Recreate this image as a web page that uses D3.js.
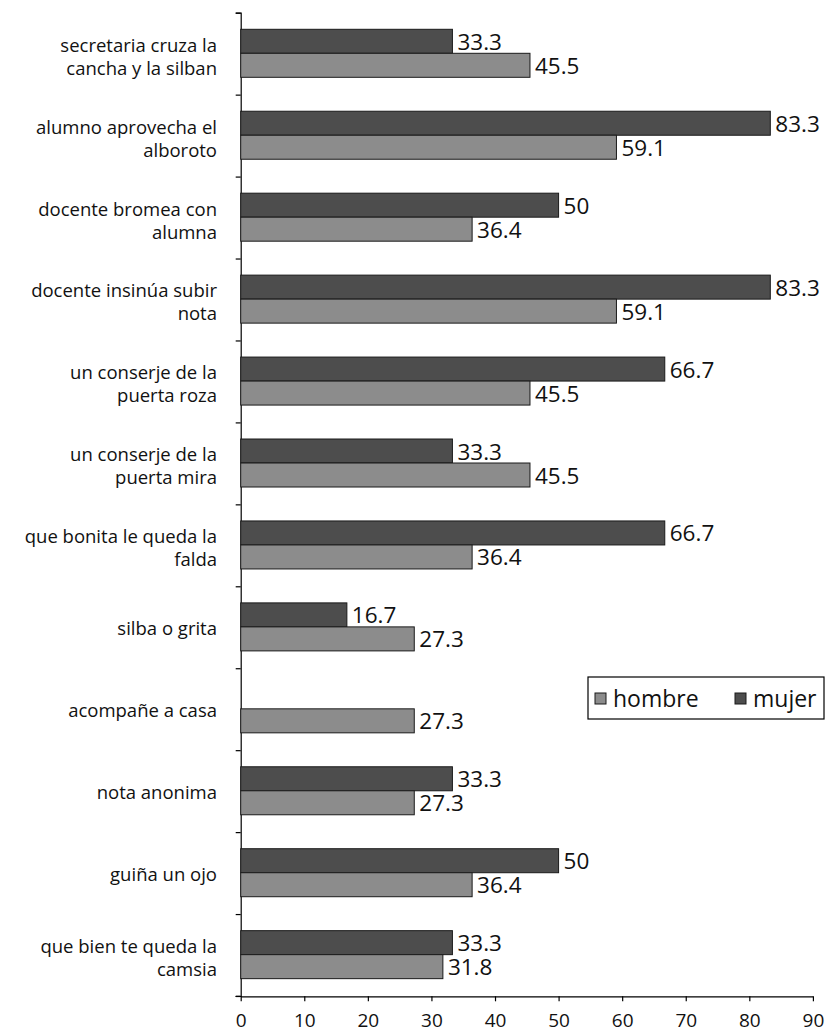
<!DOCTYPE html>
<html>
<head>
<meta charset="utf-8">
<script src="https://cdn.jsdelivr.net/npm/d3@7"></script>
<style>
  body { margin: 0; background: #fff; }
  text { font-family: "Open Sans", sans-serif; fill: #111; }
  .axis path, .axis line { stroke: #000; stroke-width: 1.2; }
</style>
</head>
<body>
<svg width="826" height="1033"></svg>
<script>
// data, top to bottom
var categories = [
  "secretaria cruza la\ncancha y la silban",
  "alumno aprovecha el\nalboroto",
  "docente bromea con\nalumna",
  "docente insinúa subir\nnota",
  "un conserje de la\npuerta roza",
  "un conserje de la\npuerta mira",
  "que bonita le queda la\nfalda",
  "silba o grita",
  "acompañe a casa",
  "nota anonima",
  "guiña un ojo",
  "que bien te queda la\ncamsia"
];
var mujer  = [33.3, 83.3, 50, 83.3, 66.7, 33.3, 66.7, 16.7, null, 33.3, 50, 33.3];
var hombre = [45.5, 59.1, 36.4, 59.1, 45.5, 45.5, 36.4, 27.3, 27.3, 27.3, 36.4, 31.8];
var series = ["mujer", "hombre"];
var colors = {mujer: "#4d4d4d", hombre: "#8c8c8c"};
var xTicks = [0, 10, 20, 30, 40, 50, 60, 70, 80, 90];

var svg = d3.select("svg");

var x = d3.scaleLinear().domain([0, 90]).range([240.7, 812.9]);
var y = d3.scaleBand().domain(categories).range([12.7, 996]);
var y1 = d3.scaleBand().domain(series).range([16.6, 64.6]);

var rows = categories.map((c, i) => ({cat: c, mujer: mujer[i], hombre: hombre[i]}));

// y axis: ticks between categories
var edges = d3.scaleLinear().domain([0, categories.length]).range([12.7, 996]);
svg.append("g")
  .attr("class", "axis")
  .attr("transform", "translate(240.7,0)")
  .call(d3.axisLeft(edges).ticks(categories.length).tickFormat("").tickSize(5).tickSizeOuter(5));

var g = svg.selectAll(".cat")
  .data(rows)
  .enter().append("g")
    .attr("class", "cat")
    .attr("transform", d => "translate(0," + y(d.cat) + ")");

series.forEach(s => {
  var withVal = g.filter(d => d[s] != null);
  withVal.append("rect")
    .attr("x", x(0))
    .attr("y", y1(s))
    .attr("width", d => x(d[s]) - x(0))
    .attr("height", y1.bandwidth())
    .attr("fill", colors[s])
    .attr("stroke", "#1a1a1a")
    .attr("stroke-width", 1);
  withVal.append("text")
    .attr("x", d => x(d[s]) + 5)
    .attr("y", y1(s) + y1.bandwidth() / 2 + 8.5)
    .style("font-size", "22.5px")
    .text(d => d[s]);
});

// category labels
var lineH = 23;
g.each(function(d) {
  var lines = d.cat.split("\n");
  var t = d3.select(this).append("text")
    .attr("text-anchor", "end")
    .style("font-size", "18.5px");
  var start = y.bandwidth() / 2 + 8 - (lines.length - 1) * lineH / 2 + (lines.length > 1 ? 1.5 : 0);
  lines.forEach((l, j) => {
    t.append("tspan")
      .attr("x", 217)
      .attr("y", start + j * lineH)
      .text(l);
  });
});

// x axis
var xa = svg.append("g")
  .attr("class", "axis")
  .attr("transform", "translate(0,996.3)")
  .call(d3.axisBottom(x).tickValues(xTicks).tickSize(5).tickSizeOuter(0).tickPadding(12));
xa.selectAll("text").style("font-size", "19px").style("font-family", "Open Sans, sans-serif").attr("fill", "#111");
xa.append("line").attr("x1", 235.7).attr("x2", 240.7).attr("stroke", "#000").attr("stroke-width", 1.2);

// legend
var lg = svg.append("g").attr("transform", "translate(588,677)");
lg.append("rect")
  .attr("width", 236).attr("height", 42)
  .attr("fill", "#fff").attr("stroke", "#000").attr("stroke-width", 1.2);
var legendItems = [["hombre", 7], ["mujer", 147]];
legendItems.forEach(([s, lx]) => {
  lg.append("rect")
    .attr("x", lx).attr("y", 16)
    .attr("width", 11).attr("height", 11)
    .attr("fill", colors[s]).attr("stroke", "#1a1a1a").attr("stroke-width", 1);
  lg.append("text")
    .attr("x", lx + 18).attr("y", 29.5)
    .style("font-size", "23px")
    .text(s);
});
</script>
</body>
</html>
